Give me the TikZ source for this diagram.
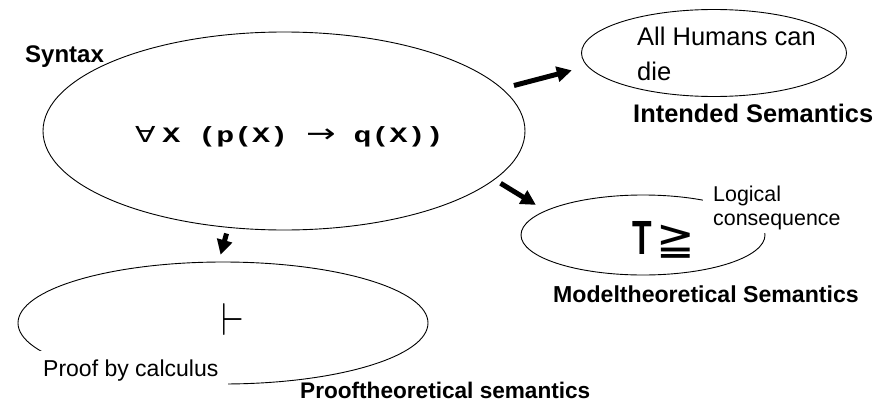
\documentclass[tikz,border=0pt]{standalone}
\usepackage{fontspec}
\usepackage{graphicx}
\setmainfont{Liberation Sans}
\newfontfamily\codefont{Liberation Mono}
\newfontfamily\symfont{DejaVu Sans}
\usetikzlibrary{shapes.geometric, arrows.meta}

\tikzset{
  oval/.style={shape=ellipse, draw=black, line width=0.9pt, inner sep=0pt},
  heading/.style={anchor=base west, inner sep=0pt, font=\bfseries\fontsize{#1}{#1}\selectfont},
  fat arrow/.style={-{Triangle[length=15pt,width=15pt]}, line width=5pt},
}

\begin{document}
\begin{tikzpicture}[x=1pt, y=-1pt]
            \useasboundingbox (0, 0) rectangle (890, 404);

            % ellipses
            \node[oval, minimum width=482pt, minimum height=198pt] (syntax) at (284, 131) {};
            \node[oval, minimum width=265pt, minimum height=87pt] (intended) at (714, 53) {};
            \node[oval, minimum width=244pt, minimum height=80pt] (model) at (643, 235) {};
            \node[oval, minimum width=410pt, minimum height=122pt] (proof) at (223, 323) {};

            % contents (multi-line nodes sit on their last baseline)
            \node[anchor=base west, inner sep=0pt] (formula) at (135, 142)
                {\scalebox{1.36}[1]{\codefont\bfseries\fontsize{22}{22}\selectfont{\symfont\mdseries ∀}\hspace{5pt}X (p(X) {\symfont\mdseries\fontsize{26}{26}\selectfont →} q(X))}};
            \node[anchor=base west, inner sep=0pt, align=left, font=\fontsize{25.5}{35}\selectfont] (humans) at (637, 80) {All Humans can\\die};
            \node[anchor=base west, inner sep=0pt] (models) at (632, 254)
                {\scalebox{1}[1.5]{\bfseries\fontsize{32}{32}\selectfont T}\hspace{5pt}{\fontsize{46}{46}\selectfont\symfont ≧}};
            \node[anchor=base west, inner sep=0pt] (turnstile) at (221, 335)
                {\scalebox{3.7}[4.6]{$\vdash$}};
            \node[anchor=base west, fill=white, inner xsep=10pt, inner ysep=4pt, align=left, font=\fontsize{21.4}{23.3}\selectfont] (consequence) at (703, 225) {Logical\\consequence};
            \node[anchor=base west, fill=white, inner xsep=10pt, inner ysep=8pt, font=\fontsize{23}{23}\selectfont] (calculus) at (33, 376) {Proof by calculus};

            % labels
            \node[heading=24] (syntaxlabel) at (25, 63) {Syntax};
            \node[heading=25.4] (intendedlabel) at (633, 122) {Intended Semantics};
            \node[heading=23.1] (modellabel) at (553, 302) {Modeltheoretical Semantics};
            \node[heading=22.6] (prooflabel) at (300, 398) {Prooftheoretical semantics};

            % arrows
            \draw[fat arrow, shorten <=12pt, shorten >=16pt] (syntax.11) -- (intended.186);
            \draw[fat arrow, shorten <=7pt, shorten >=11pt] (syntax.347) -- (model.166);
            \draw[fat arrow, shorten <=6pt, shorten >=7pt] (syntax.240) -- (proof.94);
        \end{tikzpicture}
\end{document}
